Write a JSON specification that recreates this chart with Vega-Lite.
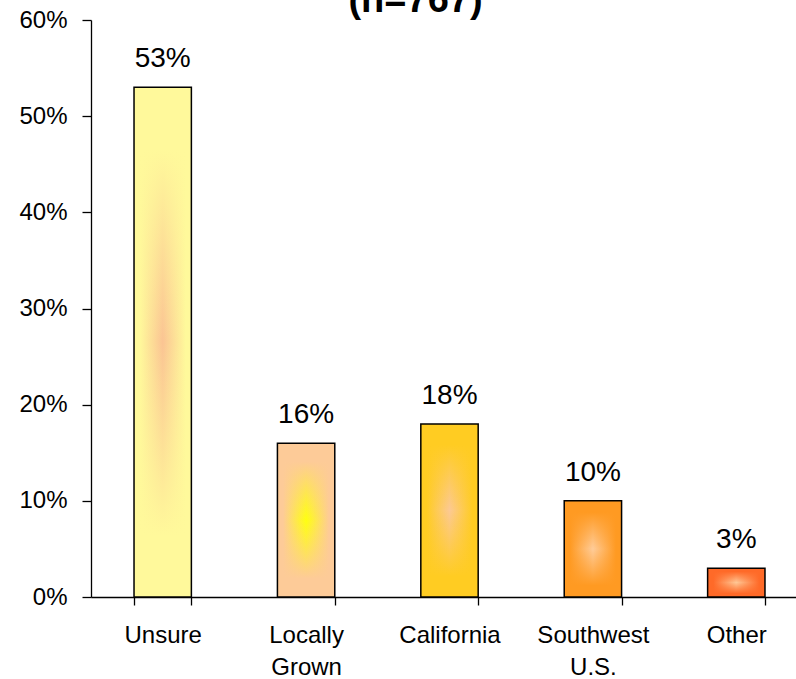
{
  "$schema": "https://vega.github.io/schema/vega-lite/v6.json",
  "autosize": {"type": "none"},
  "padding": {"left": 91, "top": 20, "right": 0, "bottom": 82},
  "width": 705,
  "height": 577,
  "background": "white",
  "config": {
    "view": {"stroke": null},
    "font": "Liberation Sans"
  },
  "title": {
    "text": "(n=767)",
    "fontSize": 38,
    "fontWeight": "bold",
    "font": "Liberation Sans",
    "color": "#000000",
    "anchor": "middle",
    "frame": "group",
    "baseline": "alphabetic",
    "offset": 0,
    "dx": -28,
    "dy": 42
  },
  "data": {
    "values": [
      {"origin": "Unsure", "share": 0.53},
      {"origin": "Locally Grown", "share": 0.16},
      {"origin": "California", "share": 0.18},
      {"origin": "Southwest U.S.", "share": 0.10},
      {"origin": "Other", "share": 0.03}
    ]
  },
  "encoding": {
    "x": {
      "field": "origin",
      "type": "nominal",
      "sort": null,
      "scale": {"range": [0, 717], "paddingInner": 0.6, "paddingOuter": 0.3},
      "axis": {
        "title": null,
        "labelAngle": 0,
        "labelFontSize": 24,
        "labelColor": "#000000",
        "labelFont": "Liberation Sans",
        "labelLineHeight": 32,
        "labelPadding": 18,
        "labelBaseline": "top",
        "labelExpr": "datum.label == 'Locally Grown' ? ['Locally', 'Grown'] : datum.label == 'Southwest U.S.' ? ['Southwest', 'U.S.'] : datum.label",
        "domainColor": "#000000",
        "domainWidth": 1.3,
        "tickColor": "#000000",
        "tickWidth": 1.3,
        "tickSize": 8,
        "tickBand": "extent",
        "grid": false
      }
    },
    "y": {
      "field": "share",
      "type": "quantitative",
      "scale": {"domain": [0, 0.6], "nice": false, "zero": true},
      "axis": {
        "title": null,
        "values": [0, 0.1, 0.2, 0.3, 0.4, 0.5, 0.6],
        "format": ".0%",
        "labelFontSize": 24,
        "labelColor": "#000000",
        "labelFont": "Liberation Sans",
        "labelPadding": 15,
        "domainColor": "#000000",
        "domainWidth": 1.3,
        "tickColor": "#000000",
        "tickWidth": 1.3,
        "tickSize": 9,
        "grid": false
      }
    }
  },
  "layer": [
    {
      "mark": {"type": "bar", "strokeWidth": 0},
      "encoding": {
        "fill": {
          "condition": [
            {"test": "datum.origin === 'Unsure'", "value": {"gradient": "linear", "x1": 0, "y1": 0, "x2": 1, "y2": 0, "stops": [
              {"offset": 0, "color": "#FFF99B"}, {"offset": 0.1, "color": "#FFF99B"}, {"offset": 0.5, "color": "#FBC493"}, {"offset": 0.9, "color": "#FFF99B"}, {"offset": 1, "color": "#FFF99B"}]}},
            {"test": "datum.origin === 'Locally Grown'", "value": {"gradient": "linear", "x1": 0, "y1": 0, "x2": 1, "y2": 0, "stops": [
              {"offset": 0, "color": "#FDCB98"}, {"offset": 0.1, "color": "#FDCB98"}, {"offset": 0.5, "color": "#FFFF10"}, {"offset": 0.9, "color": "#FDCB98"}, {"offset": 1, "color": "#FDCB98"}]}},
            {"test": "datum.origin === 'California'", "value": {"gradient": "linear", "x1": 0, "y1": 0, "x2": 1, "y2": 0, "stops": [
              {"offset": 0, "color": "#FFCC22"}, {"offset": 0.1, "color": "#FFCC22"}, {"offset": 0.5, "color": "#FCC994"}, {"offset": 0.9, "color": "#FFCC22"}, {"offset": 1, "color": "#FFCC22"}]}},
            {"test": "datum.origin === 'Southwest U.S.'", "value": {"gradient": "linear", "x1": 0, "y1": 0, "x2": 1, "y2": 0, "stops": [
              {"offset": 0, "color": "#FF9A22"}, {"offset": 0.1, "color": "#FF9A22"}, {"offset": 0.5, "color": "#FFCC99"}, {"offset": 0.9, "color": "#FF9A22"}, {"offset": 1, "color": "#FF9A22"}]}}
          ],
          "value": {"gradient": "linear", "x1": 0, "y1": 0, "x2": 1, "y2": 0, "stops": [
            {"offset": 0, "color": "#FF6A28"}, {"offset": 0.1, "color": "#FF6A28"}, {"offset": 0.5, "color": "#FFC896"}, {"offset": 0.9, "color": "#FF6A28"}, {"offset": 1, "color": "#FF6A28"}]}
        }
      }
    },
    {
      "mark": {"type": "bar", "stroke": "#000000", "strokeWidth": 1.5},
      "encoding": {
        "fill": {
          "condition": [
            {"test": "datum.origin === 'Unsure'", "value": {"gradient": "linear", "x1": 0, "y1": 0, "x2": 0, "y2": 1, "stops": [
              {"offset": 0, "color": "rgba(255,249,155,1)"}, {"offset": 0.12, "color": "rgba(255,249,155,1)"}, {"offset": 0.5, "color": "rgba(255,249,155,0)"}, {"offset": 0.88, "color": "rgba(255,249,155,1)"}, {"offset": 1, "color": "rgba(255,249,155,1)"}]}},
            {"test": "datum.origin === 'Locally Grown'", "value": {"gradient": "linear", "x1": 0, "y1": 0, "x2": 0, "y2": 1, "stops": [
              {"offset": 0, "color": "rgba(253,203,152,1)"}, {"offset": 0.12, "color": "rgba(253,203,152,1)"}, {"offset": 0.5, "color": "rgba(253,203,152,0)"}, {"offset": 0.88, "color": "rgba(253,203,152,1)"}, {"offset": 1, "color": "rgba(253,203,152,1)"}]}},
            {"test": "datum.origin === 'California'", "value": {"gradient": "linear", "x1": 0, "y1": 0, "x2": 0, "y2": 1, "stops": [
              {"offset": 0, "color": "rgba(255,204,34,1)"}, {"offset": 0.12, "color": "rgba(255,204,34,1)"}, {"offset": 0.5, "color": "rgba(255,204,34,0)"}, {"offset": 0.88, "color": "rgba(255,204,34,1)"}, {"offset": 1, "color": "rgba(255,204,34,1)"}]}},
            {"test": "datum.origin === 'Southwest U.S.'", "value": {"gradient": "linear", "x1": 0, "y1": 0, "x2": 0, "y2": 1, "stops": [
              {"offset": 0, "color": "rgba(255,154,34,1)"}, {"offset": 0.12, "color": "rgba(255,154,34,1)"}, {"offset": 0.5, "color": "rgba(255,154,34,0)"}, {"offset": 0.88, "color": "rgba(255,154,34,1)"}, {"offset": 1, "color": "rgba(255,154,34,1)"}]}}
          ],
          "value": {"gradient": "linear", "x1": 0, "y1": 0, "x2": 0, "y2": 1, "stops": [
            {"offset": 0, "color": "rgba(255,106,40,1)"}, {"offset": 0.12, "color": "rgba(255,106,40,1)"}, {"offset": 0.5, "color": "rgba(255,106,40,0)"}, {"offset": 0.88, "color": "rgba(255,106,40,1)"}, {"offset": 1, "color": "rgba(255,106,40,1)"}]}
        }
      }
    },
    {
      "mark": {"type": "text", "baseline": "alphabetic", "align": "center", "dy": -20, "fontSize": 28, "font": "Liberation Sans", "color": "#000000"},
      "encoding": {
        "text": {"field": "share", "type": "quantitative", "format": ".0%"}
      }
    }
  ]
}
